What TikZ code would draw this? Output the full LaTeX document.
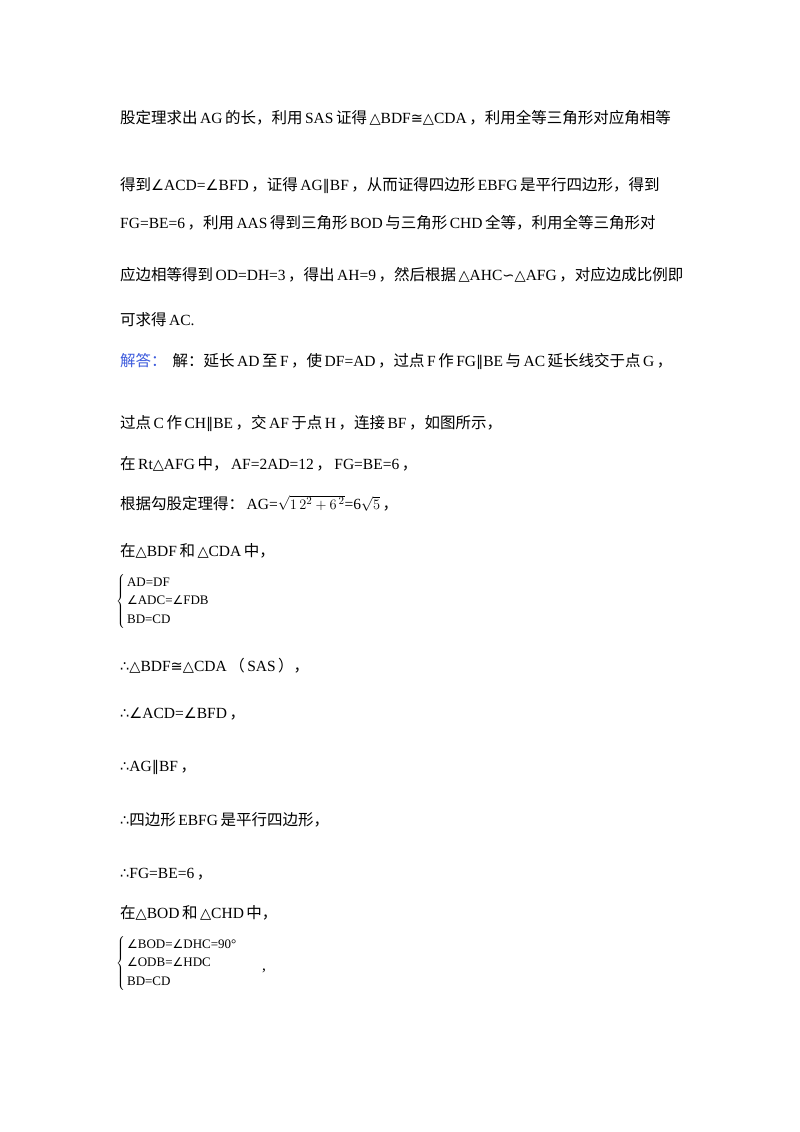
\documentclass[tikz,border=0pt]{standalone}
\usepackage{fontspec}
\setmainfont{Liberation Serif}
\newfontfamily\cjk{Noto Sans CJK SC}
\newfontfamily\sym{DejaVu Sans}
\newcommand\zh[1]{\hspace{2.5pt}{\cjk #1}\hspace{2.5pt}}
\newcommand\sy[1]{{\sym\fontsize{14.5}{14}\selectfont #1}}
\newcommand\sq[1]{{\sym\fontsize{12}{14}\selectfont #1}}
\begin{document}
\begin{tikzpicture}[x=1pt,y=-1pt,
  ln/.style={anchor=base west,inner sep=0pt,font=\fontsize{15.5}{18}\selectfont},
  sm/.style={anchor=west,inner sep=0pt,font=\fontsize{13}{15}\selectfont}]
\useasboundingbox (0,0) rectangle (800,1132);
\node[ln] (l1) at (120,123) {{\cjk 股定理求出}\hspace{2.5pt}AG\zh{的长，利用}SAS\zh{证得}\sy{△}BDF\sy{≅}\sy{△}CDA\zh{，利用全等三角形对应角相等}};
\node[ln] (l2) at (120,190) {{\cjk 得到}\sy{∠}ACD=\sy{∠}BFD\zh{，证得}AG\sy{∥}BF\zh{，从而证得四边形}EBFG\zh{是平行四边形，得到}};
\node[ln] (l3) at (120,228) {FG=BE=6\zh{，利用}AAS\zh{得到三角形}BOD\zh{与三角形}CHD\zh{全等，利用全等三角形对}};
\node[ln] (l4) at (120,280) {{\cjk 应边相等得到}\hspace{2.5pt}OD=DH=3\zh{，得出}AH=9\zh{，然后根据}\sy{△}AHC\sy{∽}\sy{△}AFG\zh{，对应边成比例即}};
\node[ln] (l5) at (120,325) {{\cjk 可求得}\hspace{2.5pt}AC.};
\node[ln] (l6) at (120,366) {\textcolor[RGB]{60,90,220}{\cjk 解答：}\hspace{6pt}{\cjk 解：延长}\hspace{2.5pt}AD\zh{至}F\zh{，使}DF=AD\zh{，过点}F\zh{作}FG\sy{∥}BE\zh{与}AC\zh{延长线交于点}G\zh{，}};
\node[ln] (l7) at (120,428) {{\cjk 过点}\hspace{2.5pt}C\zh{作}CH\sy{∥}BE\zh{，交}AF\zh{于点}H\zh{，连接}BF\zh{，如图所示，}};
\node[ln] (l8) at (120,469) {{\cjk 在}\hspace{2.5pt}Rt\sy{△}AFG\zh{中，}AF=2AD=12\zh{，}FG=BE=6\zh{，}};
\node[ln] (l9) at (120,509) {{\cjk 根据勾股定理得：}\hspace{2.5pt}AG=$\sqrt{1\,2^{2}+6^{\,2}}$=6$\sqrt{5}$\zh{，}};
\node[ln] (l10) at (120,556) {{\cjk 在}\sy{△}BDF\zh{和}\sy{△}CDA\zh{中，}};
\node[sm] (s1) at (116,601) {$\renewcommand\arraystretch{1.25}\left\{\begin{array}{@{\,}l@{}}\mbox{AD=DF}\\ \mbox{\sq{∠}ADC=\sq{∠}FDB}\\ \mbox{BD=CD}\end{array}\right.$};
\node[ln] (l11) at (120,671) {\sy{∴}\sy{△}BDF\sy{≅}\sy{△}CDA\zh{（}SAS\zh{），}};
\node[ln] (l12) at (120,718) {\sy{∴}\sy{∠}ACD=\sy{∠}BFD\zh{，}};
\node[ln] (l13) at (120,771) {\sy{∴}AG\sy{∥}BF\zh{，}};
\node[ln] (l14) at (120,825) {\sy{∴}{\cjk 四边形}\hspace{2.5pt}EBFG\zh{是平行四边形，}};
\node[ln] (l15) at (120,878) {\sy{∴}FG=BE=6\zh{，}};
\node[ln] (l16) at (120,918) {{\cjk 在}\sy{△}BOD\zh{和}\sy{△}CHD\zh{中，}};
\node[sm] (s2) at (116,963) {$\renewcommand\arraystretch{1.25}\left\{\begin{array}{@{\,}l@{}}\mbox{\sq{∠}BOD=\sq{∠}DHC=90°}\\ \mbox{\sq{∠}ODB=\sq{∠}HDC}\\ \mbox{BD=CD}\end{array}\right.$};
\node[ln] (c2) at (262,970) {,};
\end{tikzpicture}
\end{document}
